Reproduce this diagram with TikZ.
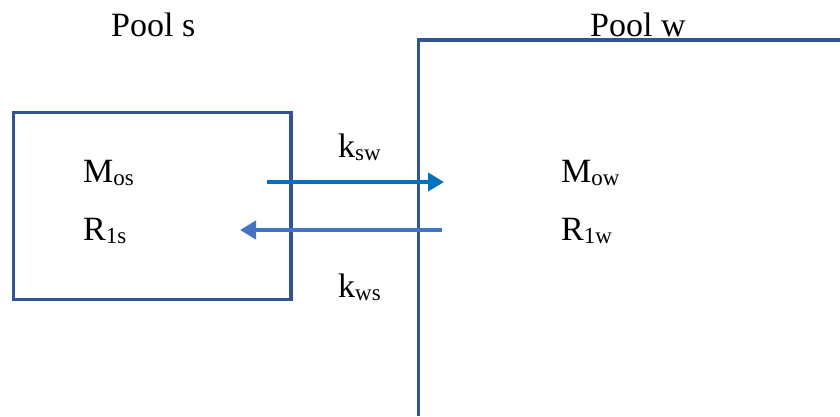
\documentclass[tikz,border=0pt]{standalone}
\usepackage{fontspec}
\setmainfont{Liberation Serif}
\usetikzlibrary{arrows.meta}
\definecolor{boxblue}{RGB}{47,85,151}
\definecolor{arrowA}{RGB}{0,112,192}
\definecolor{arrowB}{RGB}{68,114,196}
\newcommand{\mysub}[1]{\raisebox{-3.5pt}{\fontsize{23}{23}\selectfont #1}}
\tikzset{
  lbl/.style={anchor=base west, inner sep=0pt, font=\fontsize{34}{34}\selectfont},
  poolline/.style={draw=boxblue, line width=3.8pt},
  flow/.style={line width=4.2pt, -{Triangle[length=16pt,width=18pt]}}
}
\begin{document}
\begin{tikzpicture}[x=1pt,y=-1pt]
\useasboundingbox (0,0) rectangle (840,416);
% pool s box
\draw[poolline] (13.5,112.5) rectangle (291,299.5);
% pool w open box
\draw[poolline] (840,40) -- (418.5,40) -- (418.5,416);
% labels
\node[lbl] (pools) at (111,36.5) {Pool s};
\node[lbl] (poolw) at (590,36.5) {Pool w};
\node[lbl] (mos) at (83,182) {M\mysub{os}};
\node[lbl] (r1s) at (83,240) {R\mysub{1s}};
\node[lbl] (mow) at (561,182) {M\mysub{ow}};
\node[lbl] (r1w) at (561,240) {R\mysub{1w}};
\node[lbl] (ksw) at (338,157) {k\mysub{sw}};
\node[lbl] (kws) at (338,297) {k\mysub{ws}};
% arrow end points
\coordinate (a1s) at (267,182);
\coordinate (a1e) at (444,182);
\coordinate (a2s) at (442,230);
\coordinate (a2e) at (240,230);
\draw[flow, draw=arrowA, fill=arrowA] (a1s) -- (a1e);
\draw[flow, draw=arrowB, fill=arrowB] (a2s) -- (a2e);
\end{tikzpicture}
\end{document}
